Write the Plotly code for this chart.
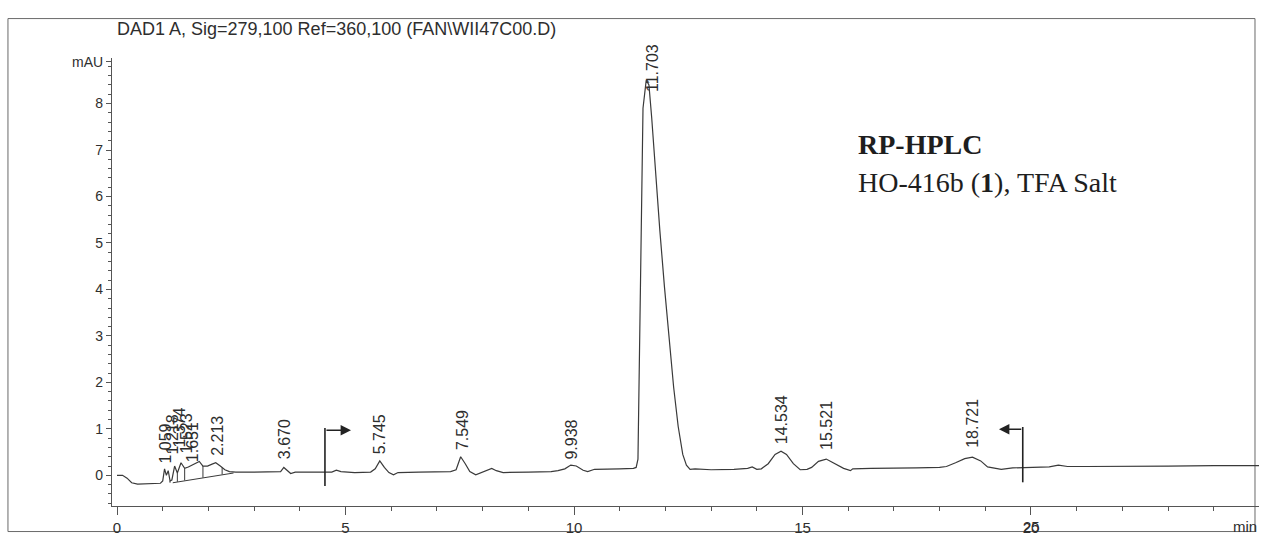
import plotly.graph_objects as go

# ---- chromatogram trace (time in min, signal in mAU) ----
time_min = [0.00, 0.12, 0.22, 0.32, 0.45, 0.70, 0.95, 1.00, 1.04, 1.08, 1.12, 1.16, 1.20,
            1.26, 1.32, 1.40, 1.48, 1.56, 1.64, 1.72, 1.80, 1.88, 1.98, 2.08, 2.16, 2.26,
            2.36, 2.46, 2.60, 3.00, 3.50, 3.58, 3.65, 3.72, 3.80, 3.90, 4.40, 4.70, 4.80,
            4.90, 5.20, 5.55, 5.65, 5.75, 5.85, 5.95, 6.05, 6.15, 6.60, 7.30, 7.42, 7.52,
            7.62, 7.72, 7.85, 7.95, 8.10, 8.20, 8.30, 8.45, 9.00, 9.50, 9.65, 9.80, 9.93,
            10.05, 10.20, 10.30, 10.45, 10.70, 11.00, 11.30, 11.36, 11.40, 11.45, 11.51,
            11.58, 11.64, 11.70, 11.78, 11.88, 11.98, 12.08, 12.18, 12.28, 12.38, 12.46,
            12.54, 12.65, 13.00, 13.50, 13.80, 13.90, 14.00, 14.10, 14.25, 14.40, 14.53,
            14.65, 14.80, 14.95, 15.10, 15.20, 15.35, 15.52, 15.70, 15.90, 16.05, 16.10,
            16.50, 17.00, 17.50, 18.00, 18.15, 18.35, 18.55, 18.72, 18.90, 19.05, 19.20,
            19.35, 19.60, 20.00, 20.40, 20.60, 20.80, 21.20, 22.00, 23.00, 24.00, 25.00]
signal_mau = [0.00, 0.00, -0.06, -0.16, -0.19, -0.18, -0.17, -0.12, 0.14, 0.00, 0.10, -0.12, -0.10,
              0.20, 0.05, 0.27, 0.15, 0.18, 0.22, 0.25, 0.30, 0.20, 0.20, 0.24, 0.27, 0.20,
              0.12, 0.08, 0.07, 0.07, 0.07, 0.08, 0.17, 0.10, 0.04, 0.07, 0.07, 0.07, 0.11,
              0.08, 0.06, 0.07, 0.14, 0.31, 0.17, 0.06, 0.01, 0.06, 0.07, 0.08, 0.12, 0.40,
              0.25, 0.08, 0.01, 0.05, 0.10, 0.15, 0.10, 0.06, 0.07, 0.08, 0.10, 0.14, 0.22,
              0.20, 0.11, 0.08, 0.13, 0.13, 0.14, 0.15, 0.17, 0.35, 3.60, 7.90,
              8.50, 8.40, 7.70, 6.55, 5.25, 4.05, 2.95, 1.90, 1.05, 0.45, 0.22,
              0.13, 0.14, 0.12, 0.13, 0.15, 0.18, 0.13, 0.14, 0.25, 0.45, 0.52,
              0.45, 0.25, 0.12, 0.13, 0.17, 0.30, 0.35, 0.25, 0.15, 0.10, 0.14,
              0.15, 0.15, 0.16, 0.17, 0.19, 0.27, 0.36, 0.39, 0.31, 0.18, 0.15,
              0.13, 0.16, 0.17, 0.18, 0.22, 0.19, 0.19, 0.19, 0.20, 0.21, 0.21]

# ---- peak retention-time labels ----
peak_labels = ["1.059", "1.218", "1.374", "1.523", "1.651", "2.213", "3.670", "5.745",
               "7.549", "9.938", "11.703", "14.534", "15.521", "18.721"]
peak_rt = [1.059, 1.218, 1.374, 1.523, 1.651, 2.213, 3.670, 5.745,
           7.549, 9.938, 11.703, 14.534, 15.521, 18.721]
label_base = [0.22, 0.40, 0.55, 0.42, 0.25, 0.38, 0.30, 0.40,
              0.50, 0.30, 8.20, 0.62, 0.50, 0.55]

# ---- integration baseline and drop lines in the early cluster ----
integ_t = [1.22, 2.55]
integ_y = [-0.16, 0.05]
drop_t = [1.16, 1.32, 1.48, 1.88, 2.30]
drop_top = [-0.12, 0.05, 0.15, 0.20, 0.17]
drop_bottom = [-0.16, -0.14, -0.11, -0.05, 0.02]

# ---- timetable events (vertical marker + arrow) ----
event_t = [4.55, 19.82]
event_top = [1.02, 1.04]
event_bottom = [-0.23, -0.15]
event_arrow_end = [5.12, 19.30]

x_ticks = [0, 5, 10, 15, 20]
y_ticks = [0, 1, 2, 3, 4, 5, 6, 7, 8, 8.9]
y_ticktext = ["0", "1", "2", "3", "4", "5", "6", "7", "8", "mAU"]

LINE = "#3a3a3a"
AX = "#555555"
TXT = "#2e2e2e"

fig = go.Figure()
fig.add_trace(go.Scatter(x=time_min, y=signal_mau, mode="lines",
                         line=dict(color=LINE, width=1.2), hoverinfo="skip"))
fig.add_trace(go.Scatter(x=integ_t, y=integ_y, mode="lines",
                         line=dict(color=LINE, width=1), hoverinfo="skip"))
for t, top, bot in zip(drop_t, drop_top, drop_bottom):
    fig.add_trace(go.Scatter(x=[t, t], y=[bot, top], mode="lines",
                             line=dict(color=LINE, width=1), hoverinfo="skip"))
for t, top, bot in zip(event_t, event_top, event_bottom):
    fig.add_trace(go.Scatter(x=[t, t], y=[bot, top], mode="lines",
                             line=dict(color="#222222", width=1.6), hoverinfo="skip"))

annotations = []
for lab, rt, yb in zip(peak_labels, peak_rt, label_base):
    annotations.append(dict(x=rt, y=yb, xref="x", yref="y", text=lab, textangle=-90,
                            showarrow=False, xanchor="center", yanchor="bottom",
                            font=dict(family="Liberation Sans", size=16, color=TXT)))
for t, top, end in zip(event_t, event_top, event_arrow_end):
    annotations.append(dict(x=end, y=top - 0.05, ax=t, ay=top - 0.05, xref="x", yref="y",
                            axref="x", ayref="y", text="", showarrow=True,
                            arrowhead=2, arrowsize=1.3, arrowwidth=1.6, arrowcolor="#222222"))

annotations += [
    dict(x=0.003, y=1.064, xref="paper", yref="paper", xanchor="left", yanchor="middle",
         text="DAD1 A, Sig=279,100 Ref=360,100 (FAN\\WII47C00.D)", showarrow=False,
         font=dict(family="Liberation Sans", size=18, color=TXT)),
    dict(x=0.6487, y=0.808, xref="paper", yref="paper", xanchor="left", yanchor="middle",
         text="<b>RP-HPLC</b>", showarrow=False,
         font=dict(family="Liberation Serif", size=28, color="#1e1e1e")),
    dict(x=0.6487, y=0.722, xref="paper", yref="paper", xanchor="left", yanchor="middle",
         text="HO-416b (<b>1</b>), TFA Salt", showarrow=False,
         font=dict(family="Liberation Serif", size=28, color="#1e1e1e")),
    dict(x=1.0, y=-0.046, xref="paper", yref="paper", xanchor="right", yanchor="middle",
         text="min", showarrow=False, font=dict(family="Liberation Sans", size=15, color=TXT)),
    dict(x=20, y=-0.046, xref="x", yref="paper", xanchor="center", yanchor="middle",
         xshift=1, text="25", showarrow=False,
         font=dict(family="Liberation Sans", size=15, color=TXT)),
]

fig.update_layout(
    width=1263, height=540,
    margin=dict(l=112, r=4, t=58, b=28),
    paper_bgcolor="white", plot_bgcolor="white",
    showlegend=False,
    annotations=annotations,
    shapes=[dict(type="rect", xref="paper", yref="paper", x0=-0.0907, x1=0.9965,
                 y0=-0.057, y1=1.088, line=dict(color="#6a6a6a", width=1), layer="below")],
    xaxis=dict(range=[-0.11, 24.99], showline=True, linecolor=AX, linewidth=1.2,
               showgrid=False, zeroline=False, ticks="outside", ticklen=8, tickcolor=AX,
               tickvals=x_ticks, tickfont=dict(family="Liberation Sans", size=15, color=TXT),
               minor=dict(tickmode="linear", tick0=0, dtick=1, ticks="outside", ticklen=4,
                          tickcolor=AX)),
    yaxis=dict(range=[-0.66, 8.98], showline=True, linecolor=AX, linewidth=1.2,
               showgrid=False, zeroline=False, ticks="outside", ticklen=5, tickcolor=AX,
               tickvals=y_ticks, ticktext=y_ticktext,
               tickfont=dict(family="Liberation Sans", size=14, color=TXT),
               minor=dict(tickmode="linear", tick0=0, dtick=0.2, ticks="outside", ticklen=3,
                          tickcolor=AX)),
)

fig.write_html("out.html", config={"displayModeBar": False},
               post_script="document.body.style.margin='0';document.body.style.overflow='hidden';")
